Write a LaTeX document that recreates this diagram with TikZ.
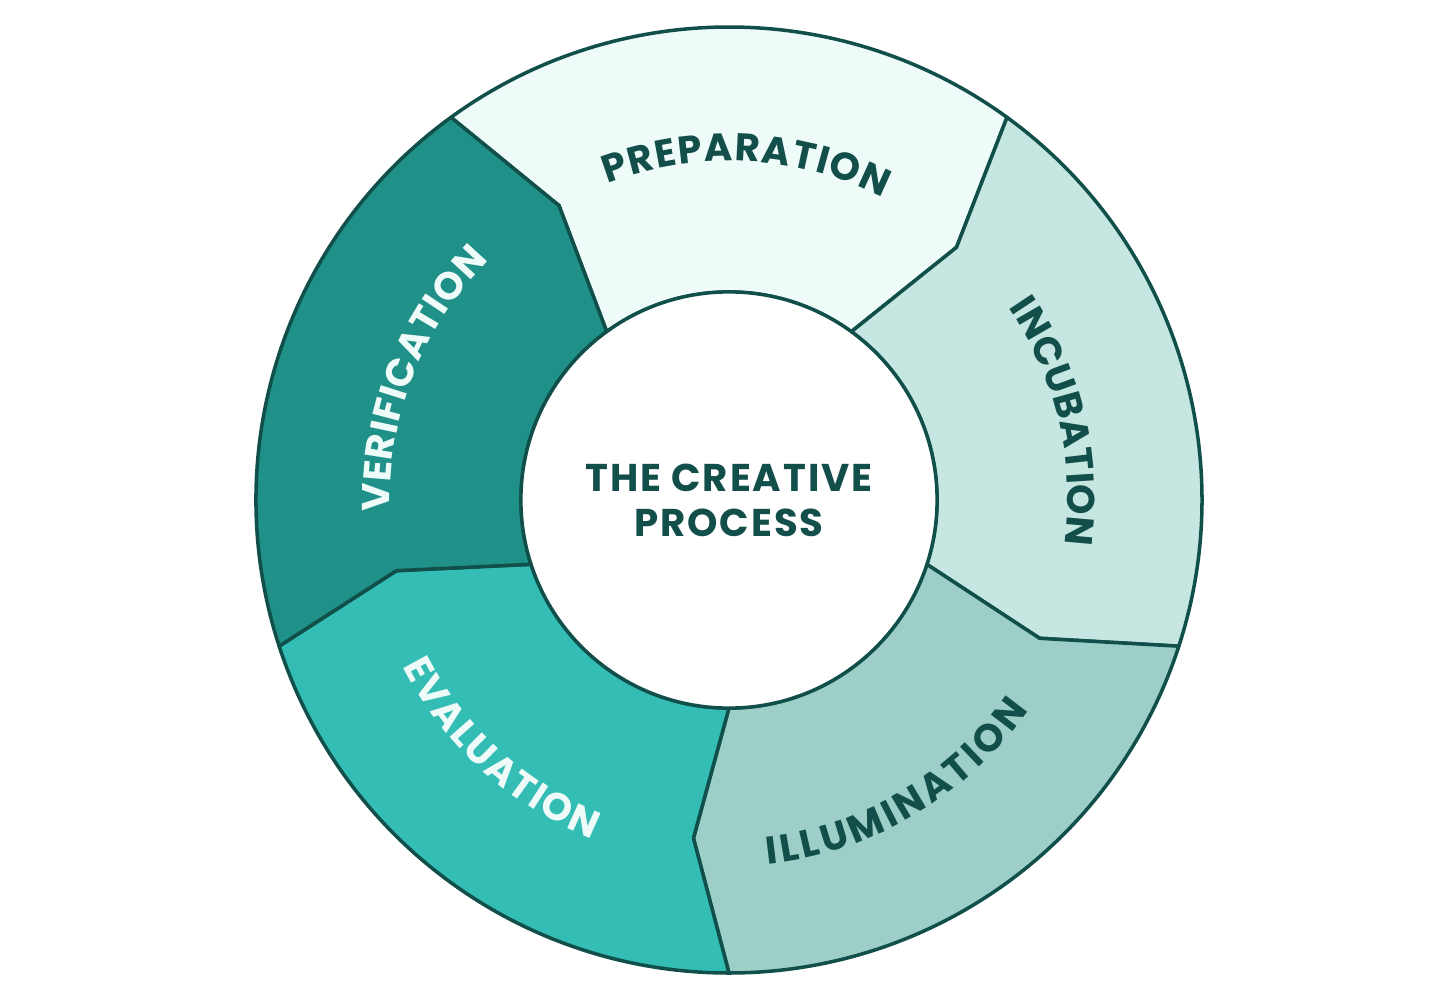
\documentclass[tikz,border=0pt]{standalone}
\usepackage{fontspec}
\newfontfamily\poppins{Poppins}
\newfontfamily\poppinswide[LetterSpace=5]{Poppins}
\usepackage{tikz}
\usetikzlibrary{decorations.text}
\definecolor{ringedge}{HTML}{114F4A}
\definecolor{darktext}{HTML}{124F4A}
\definecolor{paletext}{HTML}{EFFBF9}
\definecolor{prepfill}{HTML}{EFFBF9}
\definecolor{incufill}{HTML}{C6E6E1}
\definecolor{illufill}{HTML}{9DCFC8}
\definecolor{evalfill}{HTML}{33BDB5}
\definecolor{verifill}{HTML}{1F9188}

\begin{document}
\begin{tikzpicture}[
    x=0.01cm,y=0.01cm,
    segment/.style={draw=ringedge,line width=1pt,line join=round},
    hub/.style={draw=ringedge,line width=1pt,fill=white,circle,minimum size=4.16cm,
      inner sep=0pt,align=center,text=darktext,
      font=\poppinswide\bfseries\fontsize{11}{12.8}\selectfont},
    ringlabel/.style={decorate,decoration={text along path,text align={fit to path},
      text={|\poppins\bfseries\fontsize{11}{12}\selectfont|#1}}}
  ]
    \useasboundingbox (-729,-502) rectangle (727,500);

    % five segments, each border kinks halfway across the ring
    \foreach \from/\to/\tone in {54/126/prepfill,-18/54/incufill,-90/-18/illufill,
        -162/-90/evalfill,126/198/verifill}
      \draw[segment,fill=\tone] (\from:208) -- (\from-6:340) -- (\from:473)
        arc[start angle=\from,end angle=\to,radius=473]
        -- (\to-6:340) -- (\to:208)
        arc[start angle=\to,end angle=\from,radius=208] -- cycle;

    \node[hub] (title) at (0,0) {THE CREATIVE\\PROCESS};

    % labels along the ring
    \path[ringlabel=PREPARATION,decoration={text color=darktext}]
      (111:339) arc[start angle=111,end angle=63,radius=339];
    \path[ringlabel=INCUBATION,decoration={text color=darktext}]
      (34.5:339) arc[start angle=34.5,end angle=-7.6,radius=339];
    \path[ringlabel=ILLUMINATION,decoration={text color=darktext}]
      (-84:366) arc[start angle=-84,end angle=-35,radius=366];
    \path[ringlabel=EVALUATION,decoration={text color=paletext}]
      (207:366) arc[start angle=207,end angle=248,radius=366];
    \path[ringlabel=VERIFICATION,decoration={text color=paletext}]
      (182:339) arc[start angle=182,end angle=135,radius=339];
  \end{tikzpicture}
\end{document}
